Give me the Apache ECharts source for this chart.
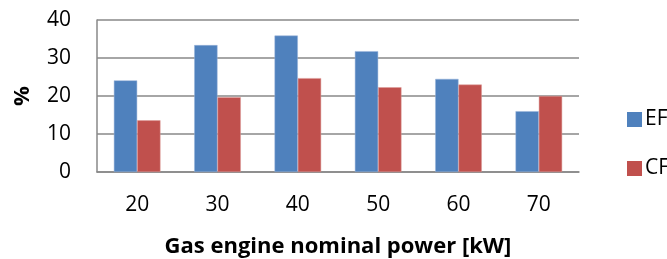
<!DOCTYPE html>
<html>
<head>
<meta charset="utf-8">
<script src="https://cdn.jsdelivr.net/npm/echarts@6/dist/echarts.min.js"></script>
<style>
  html, body { margin: 0; padding: 0; background: #fff; }
  #chart { width: 667px; height: 259px; }
</style>
</head>
<body>
<div id="chart"></div>
<script>
// data
var categories = ['20', '30', '40', '50', '60', '70'];
var efValues = [24.1, 33.4, 35.9, 31.8, 24.5, 16.0];
var cfValues = [13.6, 19.7, 24.7, 22.3, 23.0, 20.0];
var seriesNames = ['EF', 'CF'];

var font = 'Open Sans';

var myChart = echarts.init(document.getElementById('chart'));

var option = {
  backgroundColor: '#fff',
  animation: false,
  grid: {
    left: 97,
    right: 88,
    top: 20,
    bottom: 87,
    containLabel: false,
    outerBoundsMode: 'none'
  },
  legend: {
    orient: 'vertical',
    left: 622,
    top: 104,
    itemWidth: 15,
    itemHeight: 15,
    itemGap: 28,
    icon: 'rect',
    itemStyle: { borderWidth: 0 },
    textStyle: { fontFamily: font, fontSize: 21, color: '#000', padding: [0, 0, 0, -2] },
    data: seriesNames
  },
  xAxis: {
    type: 'category',
    data: categories,
    name: 'Gas engine nominal power [kW]',
    nameLocation: 'middle',
    nameGap: 64,
    nameTextStyle: { fontFamily: font, fontSize: 22, fontWeight: 'bold', color: '#000' },
    axisLine: { show: true, lineStyle: { color: '#888', width: 1.5 } },
    axisTick: { show: false },
    axisLabel: { fontFamily: font, fontSize: 21, color: '#000', margin: 23 }
  },
  yAxis: {
    type: 'value',
    min: 0,
    max: 40,
    interval: 10,
    name: '%',
    nameLocation: 'middle',
    nameGap: 63,
    nameRotate: 90,
    nameTextStyle: { fontFamily: font, fontSize: 22, fontWeight: 'bold', color: '#000' },
    axisLine: { show: true, lineStyle: { color: '#888', width: 1.5 } },
    axisTick: { show: false },
    axisLabel: { fontFamily: font, fontSize: 21, color: '#000', margin: 26 },
    splitLine: { show: true, lineStyle: { color: '#888', width: 1.5 } }
  },
  series: [
    {
      name: seriesNames[0],
      type: 'bar',
      data: efValues,
      barGap: '0%',
      barCategoryGap: '42%',
      itemStyle: { color: '#4F81BD', borderColor: '#9BB5DA', borderWidth: 0.5 }
    },
    {
      name: seriesNames[1],
      type: 'bar',
      data: cfValues,
      itemStyle: { color: '#C0504D', borderColor: '#DC9A98', borderWidth: 0.5 }
    }
  ]
};

myChart.setOption(option);
</script>
</body>
</html>
